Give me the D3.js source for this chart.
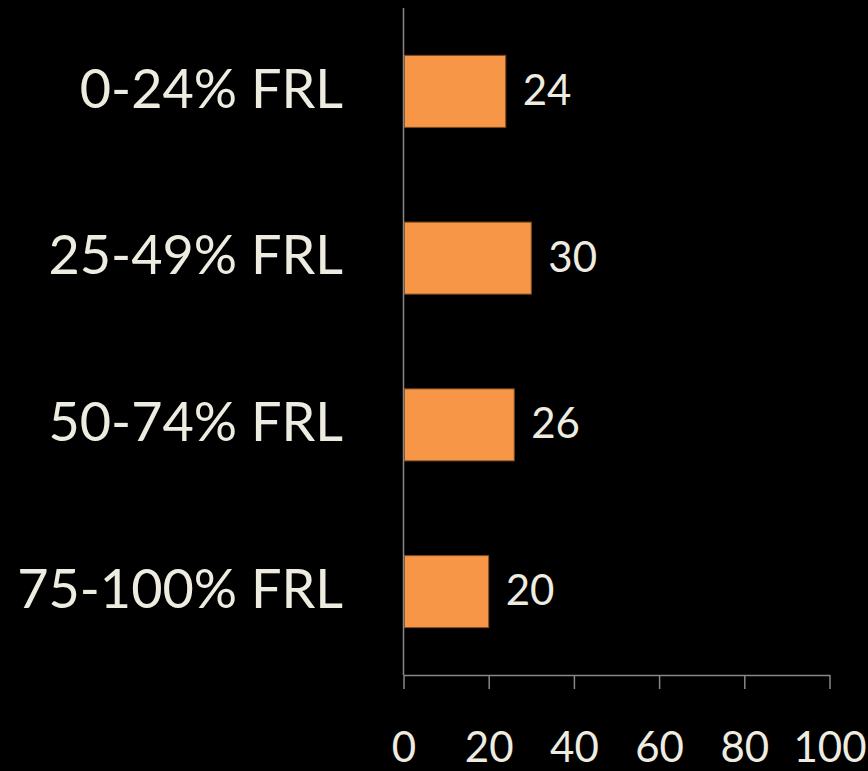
<!DOCTYPE html>
<html>
<head>
<meta charset="utf-8">
<script src="https://cdn.jsdelivr.net/npm/d3@7"></script>
<style>
  html, body { margin: 0; padding: 0; background: #000; }
  svg { display: block; }
  text { font-family: Lato, "Open Sans", sans-serif; fill: #EEECE1; }
</style>
</head>
<body>
<svg id="chart" width="868" height="771"></svg>
<script>
// Share of schools by free/reduced-price lunch band
const categories = ["0-24% FRL", "25-49% FRL", "50-74% FRL", "75-100% FRL"];
const values = [24, 30, 26, 20];
const tickValues = [0, 20, 40, 60, 80, 100];

const svg = d3.select("#chart");
const plotLeft = 403.5, plotRight = 829.5, plotTop = 8, plotBottom = 675;

const x = d3.scaleLinear().domain([0, 100]).range([plotLeft, plotRight]);
const y = d3.scaleBand().domain(categories).range([plotTop, plotBottom])
  .paddingInner(0.568).paddingOuter(0.284);

// bars
svg.selectAll("rect.bar").data(categories).join("rect")
  .attr("class", "bar")
  .attr("x", x(0) + 1)
  .attr("y", d => y(d))
  .attr("width", (d, i) => x(values[i]) - x(0) - 1)
  .attr("height", y.bandwidth())
  .attr("fill", "#F79646")
  .attr("stroke", "#7a4a22")
  .attr("stroke-width", 1);

// value labels
svg.selectAll("text.val").data(categories).join("text")
  .attr("class", "val")
  .attr("x", (d, i) => x(values[i]) + 17)
  .attr("y", d => y(d) + y.bandwidth() / 2)
  .attr("dy", "0.32em")
  .attr("font-size", 42)
  .text((d, i) => values[i]);

// category labels
svg.selectAll("text.cat").data(categories).join("text")
  .attr("class", "cat")
  .attr("x", 343)
  .attr("y", d => y(d) + y.bandwidth() / 2)
  .attr("dy", "0.3em")
  .attr("text-anchor", "end")
  .attr("font-size", 54)
  .text(d => d);

// vertical axis line
svg.append("line")
  .attr("x1", plotLeft).attr("x2", plotLeft)
  .attr("y1", plotTop).attr("y2", plotBottom)
  .attr("stroke", "#888").attr("stroke-width", 1.5);

// horizontal axis
const xAxis = d3.axisBottom(x).tickValues(tickValues).tickSize(14).tickSizeOuter(0).tickPadding(43);
const gx = svg.append("g").attr("transform", `translate(0,${plotBottom})`).call(xAxis);
gx.select(".domain").attr("stroke", "#888").attr("stroke-width", 1.5);
gx.selectAll(".tick line").attr("stroke", "#888").attr("stroke-width", 1.5);
gx.selectAll(".tick text")
  .attr("fill", "#EEECE1")
  .attr("font-size", 42)
  .style("font-family", "Lato, 'Open Sans', sans-serif");
</script>
</body>
</html>
